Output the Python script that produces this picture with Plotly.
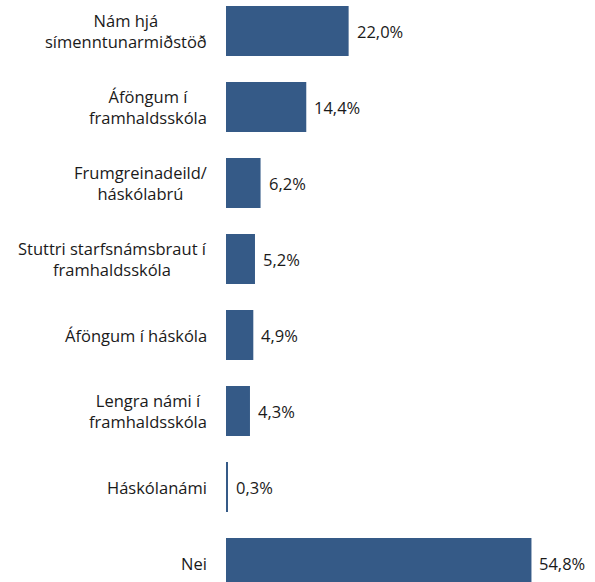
import plotly.graph_objects as go

categories = [
    "Nám hjá<br>símenntunarmiðstöð",
    "Áföngum í<br>framhaldsskóla",
    "Frumgreinadeild/<br>háskólabrú",
    "Stuttri starfsnámsbraut í<br>framhaldsskóla",
    "Áföngum í háskóla",
    "Lengra námi í<br>framhaldsskóla",
    "Háskólanámi",
    "Nei",
]
values = [22.0, 14.4, 6.2, 5.2, 4.9, 4.3, 0.3, 54.8]

BAR_COLOR = "#355a87"
FONT = "Open Sans, Liberation Sans, sans-serif"
TEXT_COLOR = "#1a1a1a"

fig = go.Figure(
    go.Bar(
        x=values,
        y=list(range(len(categories))),
        orientation="h",
        marker=dict(color=BAR_COLOR, line=dict(width=0)),
        hoverinfo="skip",
    )
)

for i, (c, v) in enumerate(zip(categories, values)):
    fig.add_annotation(
        x=0, y=i, xref="x", yref="y",
        text=c, showarrow=False,
        xanchor="right", yanchor="middle",
        align="center", xshift=-17,
        font=dict(family=FONT, size=16.5, color=TEXT_COLOR),
    )
    fig.add_annotation(
        x=v, y=i, xref="x", yref="y",
        text=f"{v:.1f}%".replace(".", ","), showarrow=False,
        xanchor="left", yanchor="middle",
        xshift=6,
        font=dict(family=FONT, size=16.5, color=TEXT_COLOR),
    )

fig.update_layout(
    width=595, height=582,
    margin=dict(l=226, r=0, t=0, b=0),
    paper_bgcolor="white", plot_bgcolor="white",
    bargap=0.34,
    showlegend=False,
    xaxis=dict(range=[0, 66.2], visible=False),
    yaxis=dict(range=[7.25, -0.408], visible=False),
)

fig.write_html(
    "out.html",
    config={"displayModeBar": False},
    post_script="document.body.style.margin='0';",
)
